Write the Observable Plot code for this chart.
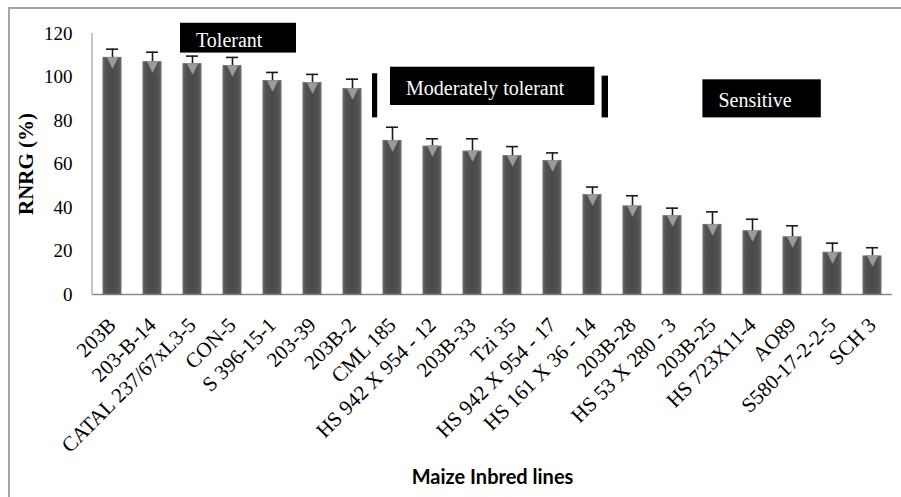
<!DOCTYPE html>
<html>
<head>
<meta charset="utf-8">
<script src="https://cdn.jsdelivr.net/npm/d3@7"></script>
<script src="https://cdn.jsdelivr.net/npm/@observablehq/plot@0.6"></script>
<style>
  html, body { margin: 0; padding: 0; background: #fff; }
  #wrap { position: relative; width: 901px; height: 497px; overflow: hidden; }
  #frame { position: absolute; left: 8px; top: 7px; width: 1000px; height: 1000px;
           border-left: 2px solid #a6a6a6; border-top: 2px solid #a6a6a6; }
  #chart { position: absolute; left: 0; top: 0; }
</style>
</head>
<body>
<div id="wrap"><div id="frame"></div><div id="chart"></div></div>
<script>
// ---- data ----
const lines = ["203B", "203-B-14", "CATAL 237/67xL3-5", "CON-5", "S 396-15-1", "203-39", "203B-2",
  "CML 185", "HS 942 X 954 - 12", "203B-33", "Tzi 35", "HS 942 X 954 - 17", "HS 161 X 36 - 14",
  "203B-28", "HS 53 X 280 - 3", "203B-25", "HS 723X11-4", "AO89", "S580-17-2-2-5", "SCH 3"];
const rnrg = [108.8, 106.8, 105.9, 105.0, 98.1, 97.2, 94.4, 70.6, 68.0, 65.7, 63.6, 61.3,
  45.7, 40.5, 36.0, 32.0, 29.1, 26.3, 19.2, 17.5];
const errUp = [4.0, 4.6, 3.7, 4.0, 4.0, 4.0, 4.6, 6.3, 3.6, 5.9, 4.4, 3.8, 3.7, 4.9, 3.7, 6.0,
  5.5, 5.3, 4.4, 4.0];
const yTicks = [0, 20, 40, 60, 80, 100, 120];
const groupLabels = ["Tolerant", "Moderately tolerant", "Sensitive"];
const yTitle = "RNRG (%)";
const xTitle = "Maize Inbred lines";

const table = lines.map((name, i) => ({name, v: rnrg[i], top: rnrg[i] + errUp[i]}));

const SERIF = "'Liberation Serif', 'Times New Roman', serif";

// annotation boxes (positions in band-step units from the left of the x range, and y data units)
const boxes = [
  {label: groupLabels[0], s1: 2.2, s2: 5.1, y1: 111, y2: 124.7, text: true},
  {label: groupLabels[1], s1: 7.45, s2: 12.56, y1: 86.9, y2: 104.5, text: true},
  {label: groupLabels[2], s1: 15.26, s2: 18.22, y1: 81.2, y2: 98.7, text: true},
  {label: "", s1: 7.0, s2: 7.13, y1: 81.2, y2: 101.5, text: false},
  {label: "", s1: 12.74, s2: 12.9, y1: 81.2, y2: 100.4, text: false}
];

function yAxisLine(index, scales, values, dimensions) {
  const y = scales.y;
  const x0 = dimensions.marginLeft;
  const g = d3.create("svg:g");
  g.append("line").attr("x1", x0).attr("x2", x0).attr("y1", y(0)).attr("y2", y(120))
    .attr("stroke", "#a0a0a0").attr("stroke-width", 1.2);
  return g.node();
}

function annotations(index, scales, values, dimensions) {
  const x = scales.x, y = scales.y;
  const step = x.step ? x.step() : 40;
  const x0 = dimensions.marginLeft;
  const g = d3.create("svg:g");
  for (const b of boxes) {
    const px1 = x0 + b.s1 * step, px2 = x0 + b.s2 * step;
    const py1 = y(b.y2), py2 = y(b.y1);
    g.append("rect").attr("x", px1).attr("y", py1).attr("width", px2 - px1).attr("height", py2 - py1)
      .attr("fill", "#000");
    if (b.text) {
      g.append("text").attr("x", px1 + 16).attr("y", (py1 + py2) / 2)
        .attr("dy", "0.45em").attr("text-anchor", "start").attr("fill", "#fff")
        .style("font-family", SERIF).style("font-size", "20px")
        .text(b.label);
    }
  }
  return g.node();
}

const plot = Plot.plot({
  width: 901,
  height: 497,
  marginLeft: 92,
  marginRight: 9,
  marginTop: 33,
  marginBottom: 203,
  style: {fontFamily: SERIF, fontSize: "19px", color: "#000", background: "transparent"},
  x: {domain: lines, paddingInner: 0.55, paddingOuter: 0.275, tickRotate: -45, tickSize: 0, tickPadding: 27, label: null},
  y: {domain: [0, 120], ticks: yTicks, tickSize: 0, tickPadding: 20, label: null},
  marks: [
    Plot.ruleY([0], {stroke: "#8a8a8a", strokeWidth: 1.5}),
    yAxisLine,
    Plot.ruleX(table, {x: "name", y1: "v", y2: "top", stroke: "#1a1a1a", strokeWidth: 1.6}),
    Plot.tickY(table, {x: "name", y: "top", stroke: "#1a1a1a", strokeWidth: 1.6, insetLeft: 3, insetRight: 3}),
    Plot.barY(table, {x: "name", y: "v", fill: "url(#barGrad)", stroke: "#6e6e6e", strokeWidth: 1}),
    Plot.text(table, {x: "name", y: "v", text: () => "▼", fill: "#9a9a9a", fontSize: 15, dy: 4, fontFamily: "DejaVu Sans"}),
    annotations,
    Plot.text([yTitle], {frameAnchor: "left", textAnchor: "middle", lineAnchor: "middle", rotate: -90, dx: -66, fontWeight: "bold", fontSize: 21}),
    Plot.text([xTitle], {frameAnchor: "bottom", lineAnchor: "middle", dy: 183, fontWeight: "bold", fontSize: 20, fontFamily: "Lato, Carlito, Calibri, sans-serif"})
  ]
});

const svg = d3.select(plot);
// larger tick labels on the x axis; serif tick labels on both axes
svg.selectAll("g[aria-label^='x-axis'] text").attr("font-size", null).style("font-size", "21px");
svg.selectAll("g[aria-label^='x-axis'], g[aria-label^='y-axis']")
  .style("font-family", SERIF).style("font-variant", "normal");
svg.selectAll("g[aria-label^='x-axis'] text, g[aria-label^='y-axis'] text")
  .style("font-family", SERIF).style("font-variant", "normal");

// gradient for the bars
const defs = svg.insert("defs", ":first-child");
const grad = defs.append("linearGradient").attr("id", "barGrad").attr("x1", "0%").attr("x2", "100%").attr("y1", "0%").attr("y2", "0%");
[["0%", "#6a6a6a"], ["15%", "#525252"], ["50%", "#4a4a4a"], ["85%", "#525252"], ["100%", "#6a6a6a"]]
  .forEach(([o, c]) => grad.append("stop").attr("offset", o).attr("stop-color", c));

document.getElementById("chart").appendChild(plot);
</script>
</body>
</html>
